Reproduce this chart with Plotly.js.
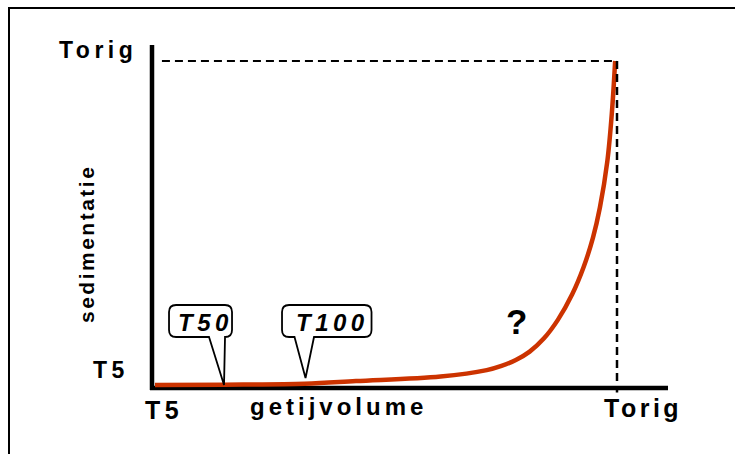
<!DOCTYPE html>
<html>
<head>
<meta charset="utf-8">
<script src="https://cdn.plot.ly/plotly-3.0.1.min.js"></script>
<style>html,body{margin:0;padding:0;background:#fff;}#chart{width:735px;height:454px;}</style>
</head>
<body>
<div id="chart"></div>
<script>
// ---- data ----
const getijvolume = [0, 0.15, 0.324, 0.435, 0.618, 0.718, 0.75, 0.781, 0.811, 0.842, 0.872, 0.903, 0.928, 0.948, 0.963, 0.979, 0.989, 0.996];
const sedimentatie = [0, 0.001, 0.004, 0.012, 0.026, 0.046, 0.059, 0.077, 0.103, 0.144, 0.201, 0.28, 0.365, 0.455, 0.548, 0.69, 0.842, 1.0];
const xTickLabels = ['T5', 'Torig'];
const yTickLabels = ['T5', 'Torig'];
const xTitle = 'getijvolume';
const yTitle = 'sedimentatie';
const calloutLabels = ['T50', 'T100'];
const calloutX = [0.1494, 0.3258];
const calloutY = [0, 0.0216];
const questionLabel = '?';
const questionX = 0.7835, questionY = 0.1975;

// ---- layout helpers (plot area 150..668 x 45..393 px) ----
const L = 150, R = 668, T = 45, B = 393;
const W = R - L, H = B - T;
const pxX = p => (p - L) / W;
const pxY = p => (B - p) / H;
const FONT = 'Liberation Sans, Arial, sans-serif';
const spaced = (t, s) => '<span style="letter-spacing:' + s + 'px">' + t + '</span>';

function bubblePath(l, r, b, t, tl, tr, rad) {
  return 'M' + tl + ',' + b + ' L0,0 L' + tr + ',' + b +
    ' L' + (r - rad) + ',' + b + ' Q' + r + ',' + b + ' ' + r + ',' + (b + rad) +
    ' L' + r + ',' + (t - rad) + ' Q' + r + ',' + t + ' ' + (r - rad) + ',' + t +
    ' L' + (l + rad) + ',' + t + ' Q' + l + ',' + t + ' ' + l + ',' + (t - rad) +
    ' L' + l + ',' + (b + rad) + ' Q' + l + ',' + b + ' ' + (l + rad) + ',' + b + ' Z';
}
const bubbleGeom = [
  {l: -55, r: 8, b: 48, t: 80, tl: -15, tr: 1, dx: -19, dy: 63},
  {l: -23.5, r: 66, b: 41, t: 73, tl: -11, tr: 8.5, dx: 26.5, dy: 56}
];

const traces = [{
  x: getijvolume, y: sedimentatie, type: 'scatter', mode: 'lines',
  line: {color: '#cc3300', width: 4.5, shape: 'spline', smoothing: 1},
  hoverinfo: 'skip', showlegend: false
}];

const shapes = [
  // frame
  {type: 'path', xref: 'paper', yref: 'paper', layer: 'above',
   path: 'M' + pxX(9) + ',' + pxY(470) + ' L' + pxX(9) + ',' + pxY(8) + ' L' + pxX(760) + ',' + pxY(8),
   line: {color: '#000', width: 2}},
  // axis lines
  {type: 'line', xref: 'paper', yref: 'paper', layer: 'below', x0: pxX(152), x1: pxX(152), y0: pxY(45), y1: pxY(390),
   line: {color: '#000', width: 4.5}},
  {type: 'line', xref: 'paper', yref: 'paper', layer: 'below', x0: pxX(150), x1: pxX(668), y0: pxY(388), y1: pxY(388),
   line: {color: '#000', width: 4.5}},
  // dashed reference lines at Torig
  {type: 'line', xref: 'x', yref: 'y', layer: 'above', x0: 0.015, x1: 1, y0: 1, y1: 1,
   line: {color: '#000', width: 2, dash: '8px,5px'}},
  {type: 'line', xref: 'x', yref: 'y', layer: 'above', x0: 1, x1: 1, y0: 1, y1: -0.023,
   line: {color: '#000', width: 2.5, dash: '8px,5px'}}
];
calloutLabels.forEach((lab, i) => {
  const g = bubbleGeom[i];
  shapes.push({type: 'path', xref: 'x', yref: 'y', layer: 'above',
    xsizemode: 'pixel', ysizemode: 'pixel', xanchor: calloutX[i], yanchor: calloutY[i],
    path: bubblePath(g.l, g.r, g.b, g.t, g.tl, g.tr, 7),
    fillcolor: '#fff', line: {color: '#000', width: 1.8}});
});

const annotations = [
  {xref: 'paper', yref: 'paper', x: pxX(98), y: pxY(50.3), text: spaced(yTickLabels[1], 4.5),
   font: {family: FONT, size: 23, weight: 'bold', color: '#000'}},
  {xref: 'paper', yref: 'paper', x: pxX(111), y: pxY(370.3), text: spaced(yTickLabels[0], 4.5),
   font: {family: FONT, size: 23, weight: 'bold', color: '#000'}},
  {xref: 'paper', yref: 'paper', x: pxX(163.5), y: pxY(409.6), text: spaced(xTickLabels[0], 4.5),
   font: {family: FONT, size: 25, weight: 'bold', color: '#000'}},
  {xref: 'paper', yref: 'paper', x: pxX(643), y: pxY(407.6), text: spaced(xTickLabels[1], 3.5),
   font: {family: FONT, size: 25, weight: 'bold', color: '#000'}},
  {xref: 'paper', yref: 'paper', x: pxX(338.5), y: pxY(406), text: spaced(xTitle, 4),
   font: {family: FONT, size: 24, weight: 'bold', color: '#000'}},
  {xref: 'paper', yref: 'paper', x: pxX(86), y: pxY(244), text: spaced(yTitle, 2.5), textangle: -90,
   font: {family: FONT, size: 21, weight: 'bold', color: '#000'}},
  {xref: 'x', yref: 'y', x: questionX, y: questionY, text: questionLabel,
   font: {family: FONT, size: 35, weight: 'bold', color: '#000'}}
];
calloutLabels.forEach((lab, i) => {
  const g = bubbleGeom[i];
  annotations.push({xref: 'x', yref: 'y', x: calloutX[i], y: calloutY[i], xshift: g.dx, yshift: g.dy,
    text: spaced(lab, 4.5), font: {family: FONT, size: 24, weight: 'bold', style: 'italic', color: '#000'}});
});
annotations.forEach(a => { a.showarrow = false; a.xanchor = 'center'; a.yanchor = 'middle'; });

const layout = {
  width: 735, height: 454,
  margin: {l: L, r: 735 - R, t: T, b: 454 - B, pad: 0},
  paper_bgcolor: '#fff', plot_bgcolor: 'rgba(0,0,0,0)',
  showlegend: false,
  xaxis: {range: [-5 / 462, 513 / 462], showgrid: false, zeroline: false, showline: false,
          showticklabels: false, ticks: '', fixedrange: true},
  yaxis: {range: [-8 / 324, 340 / 324], showgrid: false, zeroline: false, showline: false,
          showticklabels: false, ticks: '', fixedrange: true},
  shapes: shapes,
  annotations: annotations
};

Plotly.newPlot('chart', traces, layout, {displayModeBar: false, staticPlot: true});
</script>
</body>
</html>
